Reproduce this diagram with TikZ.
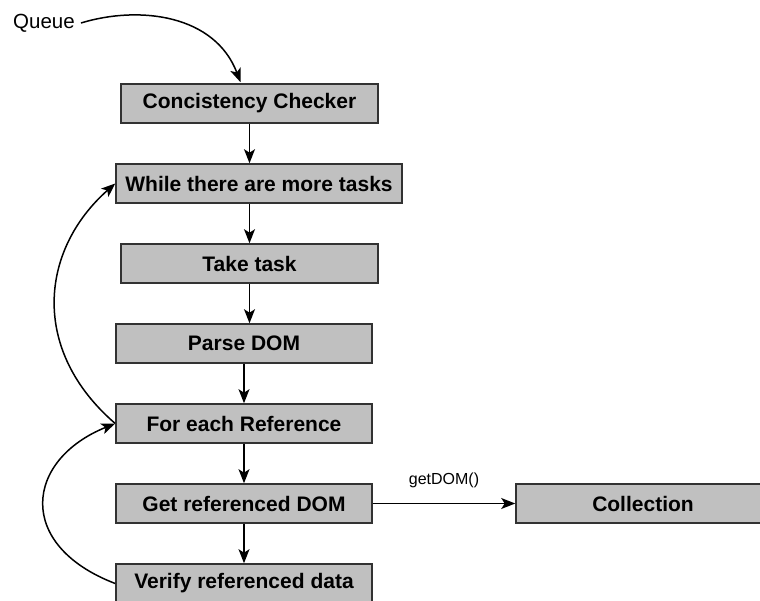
\documentclass[tikz,border=0pt]{standalone}
\usepackage{fontspec}
\setmainfont{Liberation Sans}
\usepackage{tikz}
\usetikzlibrary{arrows.meta, positioning, calc}
\definecolor{boxgray}{RGB}{192,192,192}
\definecolor{boxline}{RGB}{50,50,50}
\tikzset{
  block/.style={rectangle, draw=boxline, fill=boxgray, line width=1.6pt,
    minimum width=256pt, minimum height=39pt, inner sep=0pt,
    font=\bfseries\fontsize{21}{25}\selectfont},
  arrow/.style={-{Stealth[length=14pt, width=11pt, inset=3.5pt]}, line width=1.5pt, color=black},
}
\begin{document}
\begin{tikzpicture}[x=1pt, y=-1pt]
  \useasboundingbox (0,0) rectangle (760,601);

  % Input
  \node[font=\fontsize{20.5}{24}\selectfont, inner sep=1pt] (queue) at (44,23) {Queue};

  % Main flow
  \node[block, minimum width=257pt] (checker) at (249.5,103.5) {Concistency Checker};
  \node[block, minimum width=286pt] (tasks) at (259,183.5) {While there are more tasks};
  \node[block, minimum width=257pt] (take) at (249.5,263.5) {Take task};
  \node[block] (parse) at (244,343.5) {Parse DOM};
  \node[block] (foreach) at (244,423.5) {For each Reference};
  \node[block] (getdom) at (244,503.5) {Get referenced DOM};
  \node[block] (verify) at (244,583.5) {Verify referenced data};

  % Side store
  \node[block, minimum width=254pt] (collection) at (643,503.5) {Collection};

  % Connections
  \draw[arrow] ($(queue.east)+(5,0)$) .. controls (140,5) and (215,15) .. ($(checker.north)+(-9,-1)$);
  \draw[arrow] (checker.south) -- (checker.south |- tasks.north);
  \draw[arrow] (tasks.south -| take) -- (take.north);
  \draw[arrow] (take.south) -- (take.south |- parse.north);
  \draw[arrow] (parse.south) -- (foreach.north);
  \draw[arrow] (foreach.south) -- (getdom.north);
  \draw[arrow] (getdom.south) -- (verify.north);
  \draw[arrow] (getdom.east) -- node[midway, above=12pt, font=\fontsize{16}{19}\selectfont] {getDOM()} (collection.west);

  % Loops back
  \draw[arrow] (foreach.west) .. controls (30,350) and (40,250) .. (tasks.west);
  \draw[arrow] (verify.west) .. controls (15,545) and (25,460) .. (foreach.west);
\end{tikzpicture}
\end{document}
